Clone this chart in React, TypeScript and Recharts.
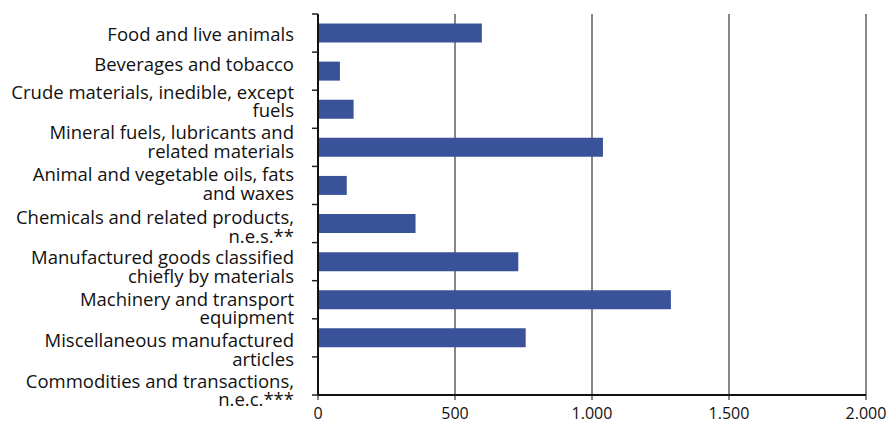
import { BarChart, Bar, XAxis, YAxis, CartesianGrid } from "recharts";

// category labels, already wrapped the way the reference shows them
const CATEGORY_LINES = [
  ["Food and live animals"],
  ["Beverages and tobacco"],
  ["Crude materials, inedible, except", "fuels"],
  ["Mineral fuels, lubricants and", "related materials"],
  ["Animal and vegetable oils, fats", "and waxes"],
  ["Chemicals and related products,", "n.e.s.**"],
  ["Manufactured goods classified", "chiefly by materials"],
  ["Machinery and transport", "equipment"],
  ["Miscellaneous manufactured", "articles"],
  ["Commodities and transactions,", "n.e.c.***"],
];
const VALUES = [598, 80, 130, 1040, 105, 356, 731, 1288, 758, 0];
const X_TICKS = [0, 500, 1000, 1500, 2000];

const W = 888;
const H = 423;
const TOP = 14;
const BOTTOM = 28;
const YAXIS_W = 318;
const RIGHT = 22;
const FONT = "'Open Sans', sans-serif";
const BAR_COLOR = "#3a5299";
// small vertical nudges so the labels sit where the reference puts them
const LABEL_NUDGE = [0, -8, -9, -6.5, -2.5, 2.4, 4.3, 7.7, 11, 13.5];

const data = CATEGORY_LINES.map((lines, i) => ({
  name: lines.join(" "),
  value: VALUES[i],
}));

const band = (H - TOP - BOTTOM) / data.length;
const fmt = (v: number) => v.toLocaleString("de-DE");

function CatTick(props: any) {
  const { x, y, index } = props;
  const lines = CATEGORY_LINES[index] || [];
  const lh = 18.5;
  const start = y + LABEL_NUDGE[index] - ((lines.length - 1) * lh) / 2;
  return (
    <g>
      <line x1={YAXIS_W - 6} x2={YAXIS_W} y1={y - band / 2} y2={y - band / 2} stroke="#222" strokeWidth={1.5} />
      {index === data.length - 1 && (
        <line x1={YAXIS_W - 6} x2={YAXIS_W} y1={y + band / 2} y2={y + band / 2} stroke="#222" strokeWidth={1.5} />
      )}
      {lines.map((l: string, i: number) => (
        <text
          key={i}
          x={x}
          y={start + i * lh}
          textAnchor="end"
          dominantBaseline="central"
          fontSize={18.5}
          fontFamily={FONT}
          fill="#111"
        >
          {l}
        </text>
      ))}
    </g>
  );
}

export default function App() {
  return (
    <div style={{ position: "absolute", left: 0, top: 0, width: W, height: H, background: "#fff" }}>
      <BarChart
        width={W}
        height={H}
        data={data}
        layout="vertical"
        margin={{ top: TOP, right: RIGHT, bottom: 0, left: 0 }}
        barCategoryGap="25%"
      >
        <CartesianGrid horizontal={false} stroke="#111" strokeWidth={1} />
        <XAxis
          type="number"
          domain={[0, 2000]}
          ticks={X_TICKS}
          tickFormatter={fmt}
          height={BOTTOM}
          interval={0}
          axisLine={{ stroke: "#111", strokeWidth: 2 }}
          tickLine={{ stroke: "#111" }}
          tickSize={5}
          tickMargin={8}
          tick={{ fontSize: 16, fontFamily: FONT, fill: "#111" }}
        />
        <YAxis
          type="category"
          dataKey="name"
          width={YAXIS_W}
          interval={0}
          axisLine={{ stroke: "#111", strokeWidth: 2 }}
          tickLine={false}
          tickSize={0}
          tickMargin={24}
          tick={<CatTick />}
        />
        <Bar dataKey="value" fill={BAR_COLOR} isAnimationActive={false} />
      </BarChart>
    </div>
  );
}
